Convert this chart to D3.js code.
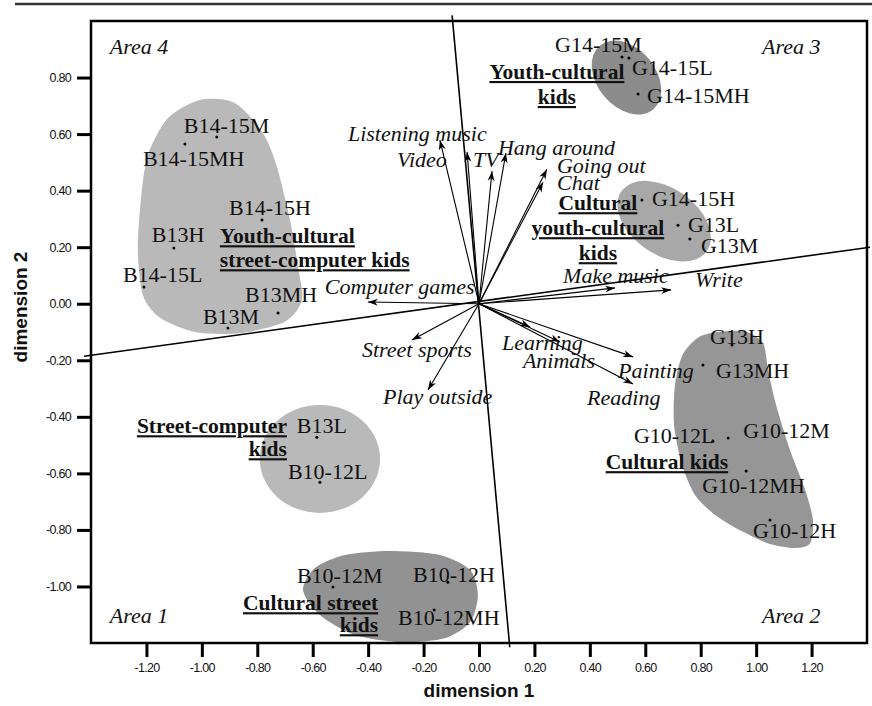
<!DOCTYPE html>
<html>
<head>
<meta charset="utf-8">
<script src="https://cdn.jsdelivr.net/npm/d3@7/dist/d3.min.js"></script>
<style>
  body { margin: 0; background: #fff; }
  .tick text { font-family: "Liberation Sans", Arial, sans-serif; font-size: 12.5px; letter-spacing: -0.7px; fill: #111; }
  .tick line { stroke: #000; stroke-width: 3px; }
  .pt { font-family: "Liberation Serif", serif; font-size: 22px; fill: #111; }
  .var { font-family: "Liberation Serif", serif; font-style: italic; font-size: 22px; fill: #111; }
  .grp { font-family: "Liberation Serif", serif; font-weight: bold; font-size: 21.5px; fill: #111; text-decoration: underline; }
  .area { font-family: "Liberation Serif", serif; font-style: italic; font-size: 22px; fill: #111; }
  .title { font-family: "Liberation Sans", Arial, sans-serif; font-weight: bold; font-size: 19px; fill: #111; }
</style>
</head>
<body>
<svg id="chart" width="872" height="706"></svg>
<script>
const xTicks = [-1.2, -1.0, -0.8, -0.6, -0.4, -0.2, 0, 0.2, 0.4, 0.6, 0.8, 1.0, 1.2]
const yTicks = [-1.0, -0.8, -0.6, -0.4, -0.2, 0, 0.2, 0.4, 0.6, 0.8]

// group points (gender + age + income)
const groupNames = ['B14-15M', 'B14-15MH', 'B14-15H', 'B13H', 'B14-15L', 'B13MH', 'B13M',
  'B13L', 'B10-12L', 'B10-12M', 'B10-12H', 'B10-12MH',
  'G14-15M', 'G14-15L', 'G14-15MH', 'G14-15H', 'G13L', 'G13M',
  'G13H', 'G13MH', 'G10-12L', 'G10-12M', 'G10-12MH', 'G10-12H']
const groupX = [-0.946, -1.061, -0.783, -1.101, -1.209, -0.725, -0.906,
  -0.585, -0.574, -0.527, -0.112, -0.162,
  0.516, 0.541, 0.574, 0.588, 0.718, 0.761,
  0.913, 0.808, 0.844, 0.899, 0.964, 1.050]
const groupY = [0.590, 0.565, 0.296, 0.197, 0.059, -0.033, -0.086,
  -0.472, -0.631, -1.002, -0.985, -1.083,
  0.873, 0.869, 0.742, 0.367, 0.278, 0.229,
  -0.146, -0.217, -0.486, -0.475, -0.592, -0.765]

// activity vectors
const varNames = ['Listening music', 'Video', 'TV', 'Hang around', 'Going out', 'Chat',
  'Make music', 'Write', 'Computer games', 'Street sports', 'Play outside',
  'Learning', 'Animals', 'Painting', 'Reading']
const varX = [-0.141, -0.043, 0.047, 0.097, 0.245, 0.231, 0.491, 0.693, -0.401, -0.242, -0.184, 0.184, 0.292, 0.556, 0.556]
const varY = [0.579, 0.537, 0.469, 0.533, 0.476, 0.430, 0.056, 0.049, 0.006, -0.128, -0.305, -0.082, -0.135, -0.188, -0.284]

// cluster shapes (outlines in dimension units)
const clusterOutlines = [
  { fill: '#b9b9b9', pts: [[-0.780, 0.604], [-0.729, 0.484], [-0.682, 0.296], [-0.653, 0.130], [-0.639, 0.013],
    [-0.700, -0.064], [-0.862, -0.104], [-1.025, -0.100], [-1.151, -0.050], [-1.213, 0.031], [-1.231, 0.190],
    [-1.220, 0.367], [-1.195, 0.526], [-1.122, 0.657], [-1.007, 0.721], [-0.881, 0.710]] },
  { fill: '#969696', pts: [[0.860, -0.100], [0.960, -0.098], [1.025, -0.140], [1.043, -0.234], [1.072, -0.358],
    [1.122, -0.517], [1.177, -0.659], [1.205, -0.765], [1.195, -0.847], [1.140, -0.864], [1.050, -0.850],
    [0.942, -0.801], [0.852, -0.747], [0.780, -0.677], [0.733, -0.571], [0.704, -0.430], [0.707, -0.288],
    [0.735, -0.180], [0.790, -0.120]] },
  { fill: '#929292', pts: [[-0.635, -1.013], [-0.592, -0.935], [-0.484, -0.889], [-0.321, -0.875], [-0.141, -0.889],
    [-0.032, -0.942], [-0.004, -1.031], [-0.032, -1.126], [-0.123, -1.183], [-0.285, -1.197], [-0.447, -1.172],
    [-0.574, -1.101]] }
]
const clusterEllipses = [
  { fill: '#b9b9b9', cx: -0.574, cy: -0.549, rx: 0.217, ry: 0.191, rot: 0 },
  { fill: '#8c8c8c', cx: 0.532, cy: 0.800, rx: 0.150, ry: 0.103, rot: 50 },
  { fill: '#a8a8a8', cx: 0.668, cy: 0.292, rx: 0.188, ry: 0.117, rot: 35 }
]

// rotated reference axes
const rotAxes = [
  [[-0.097, 1.02], [0.111, -1.215]],
  [[-1.425, -0.186], [1.411, 0.2]]
]

// label placement (pixels from the point: dx to text start, dy to text middle)
const ptLabel = {
  'B14-15M': [-33, -11], 'B14-15MH': [-42, 15], 'B14-15H': [-33, -12], 'B13H': [-22, -13],
  'B14-15L': [-21, -12], 'B13MH': [-33, -18], 'B13M': [-25, -11], 'B13L': [-20, -11],
  'B10-12L': [-32, -10], 'B10-12M': [-36, -11], 'B10-12H': [-35, -7], 'B10-12MH': [-36, 8],
  'G14-15M': [-67, -12], 'G14-15L': [3, 10], 'G14-15MH': [9, 2], 'G14-15H': [10, -1],
  'G13L': [10, 0], 'G13M': [11, 7], 'G13H': [-22, -8], 'G13MH': [13, 6],
  'G10-12L': [-79, -5], 'G10-12M': [15, -7], 'G10-12MH': [-44, 15], 'G10-12H': [-17, 11]
}
const varLabel = {
  'Listening music': [-92, -6], 'Video': [-70, 8], 'TV': [-19, -11], 'Hang around': [-8, -5],
  'Going out': [10, -3], 'Chat': [14, 1], 'Make music': [-52, -11], 'Write': [24, -9],
  'Computer games': [-43, -15], 'Street sports': [-50, 10], 'Play outside': [-45, 7],
  'Learning': [-28, 16], 'Animals': [-37, 20], 'Painting': [-15, 15], 'Reading': [-46, 14]
}
const groupLabels = [
  { lines: ['Youth-cultural', 'street-computer kids'], x: -0.935, y: 0.239, anchor: 'start', gap: 24 },
  { lines: ['Youth-cultural', 'kids'], x: 0.281, y: 0.82, anchor: 'middle', gap: 25 },
  { lines: ['Cultural', 'youth-cultural', 'kids'], x: 0.429, y: 0.356, anchor: 'middle', gap: 25 },
  { lines: ['Street-computer', 'kids'], x: -0.693, y: -0.433, anchor: 'end', gap: 23 },
  { lines: ['Cultural kids'], x: 0.899, y: -0.560, anchor: 'end', gap: 0 },
  { lines: ['Cultural street', 'kids'], x: -0.364, y: -1.059, anchor: 'end', gap: 22 }
]
const areaLabels = [
  { t: 'Area 4', x: -1.332, y: 0.908 }, { t: 'Area 3', x: 1.021, y: 0.908 },
  { t: 'Area 1', x: -1.332, y: -1.105 }, { t: 'Area 2', x: 1.021, y: -1.105 }
]

const svg = d3.select('#chart')
const x = d3.scaleLinear().domain([-1.4, 1.4]).range([91, 867])
const y = d3.scaleLinear().domain([-1.2, 1.0]).range([643, 21])

// rule at the top of the figure
svg.append('line').attr('x1', 15).attr('x2', 872).attr('y1', 4).attr('y2', 4)
  .attr('stroke', '#333').attr('stroke-width', 2.5)

// clusters
const outline = d3.line().x(d => x(d[0])).y(d => y(d[1])).curve(d3.curveCardinalClosed.tension(0.2))
svg.selectAll('.blob').data(clusterOutlines).enter().append('path')
  .attr('d', d => outline(d.pts)).attr('fill', d => d.fill)
svg.selectAll('.ell').data(clusterEllipses).enter().append('ellipse')
  .attr('cx', d => x(d.cx)).attr('cy', d => y(d.cy))
  .attr('rx', d => x(d.cx + d.rx) - x(d.cx)).attr('ry', d => y(d.cy - d.ry) - y(d.cy))
  .attr('transform', d => `rotate(${d.rot},${x(d.cx)},${y(d.cy)})`)
  .attr('fill', d => d.fill)

// rotated axes
svg.selectAll('.rot').data(rotAxes).enter().append('line')
  .attr('x1', d => x(d[0][0])).attr('y1', d => y(d[0][1]))
  .attr('x2', d => x(d[1][0])).attr('y2', d => y(d[1][1]))
  .attr('stroke', '#000').attr('stroke-width', 1.6)

// frame
svg.append('rect').attr('x', x(-1.4)).attr('y', y(1.0))
  .attr('width', x(1.4) - x(-1.4)).attr('height', y(-1.2) - y(1.0))
  .attr('fill', 'none').attr('stroke', '#000').attr('stroke-width', 2.5)

// axes (plain hyphen as minus, like the original)
const fmt = v => d3.format('.2f')(v).replace('\u2212', '-')
const gx = svg.append('g').attr('transform', `translate(0,${y(-1.2)})`)
  .call(d3.axisBottom(x).tickValues(xTicks).tickFormat(fmt).tickSize(14).tickPadding(6))
const gy = svg.append('g').attr('transform', `translate(${x(-1.4)},0)`)
  .call(d3.axisLeft(y).tickValues(yTicks).tickFormat(fmt).tickSize(14).tickPadding(6))
gx.select('.domain').remove()
gy.select('.domain').remove()

svg.append('text').attr('class', 'title').attr('x', 479).attr('y', 697)
  .attr('text-anchor', 'middle').text('dimension 1')
svg.append('text').attr('class', 'title').attr('transform', 'translate(27,307) rotate(-90)')
  .attr('text-anchor', 'middle').text('dimension 2')

// arrows
svg.append('defs').append('marker').attr('id', 'ah')
  .attr('viewBox', '0 -4 10 8').attr('refX', 10).attr('refY', 0)
  .attr('markerWidth', 10).attr('markerHeight', 8).attr('markerUnits', 'userSpaceOnUse')
  .attr('orient', 'auto')
  .append('path').attr('d', 'M0,-3.5L10,0L0,3.5L3,0Z').attr('fill', '#000')

const vars = varNames.map((n, i) => ({ name: n, vx: varX[i], vy: varY[i] }))
svg.selectAll('.arrow').data(vars).enter().append('line')
  .attr('x1', x(0)).attr('y1', y(0))
  .attr('x2', d => x(d.vx)).attr('y2', d => y(d.vy))
  .attr('stroke', '#000').attr('stroke-width', 1.1)
  .attr('marker-end', 'url(#ah)')
svg.selectAll('.vlab').data(vars).enter().append('text').attr('class', 'var')
  .attr('x', d => x(d.vx) + varLabel[d.name][0])
  .attr('y', d => y(d.vy) + varLabel[d.name][1])
  .attr('dy', '0.3em').text(d => d.name)

// group points
const groups = groupNames.map((n, i) => ({ name: n, gx: groupX[i], gy: groupY[i] }))
svg.selectAll('.dot').data(groups).enter().append('circle')
  .attr('cx', d => x(d.gx)).attr('cy', d => y(d.gy)).attr('r', 1.5).attr('fill', '#000')
svg.selectAll('.plab').data(groups).enter().append('text').attr('class', 'pt')
  .attr('x', d => x(d.gx) + ptLabel[d.name][0])
  .attr('y', d => y(d.gy) + ptLabel[d.name][1])
  .attr('dy', '0.33em').text(d => d.name)

// cluster names
groupLabels.forEach(g => {
  const t = svg.append('text').attr('class', 'grp').attr('text-anchor', g.anchor)
  g.lines.forEach((l, i) => {
    t.append('tspan').attr('x', x(g.x)).attr('y', y(g.y) + i * g.gap).attr('dy', '0.33em').text(l)
  })
})

svg.selectAll('.area').data(areaLabels).enter().append('text').attr('class', 'area')
  .attr('x', d => x(d.x)).attr('y', d => y(d.y)).attr('dy', '0.33em').text(d => d.t)
</script>
</body>
</html>
